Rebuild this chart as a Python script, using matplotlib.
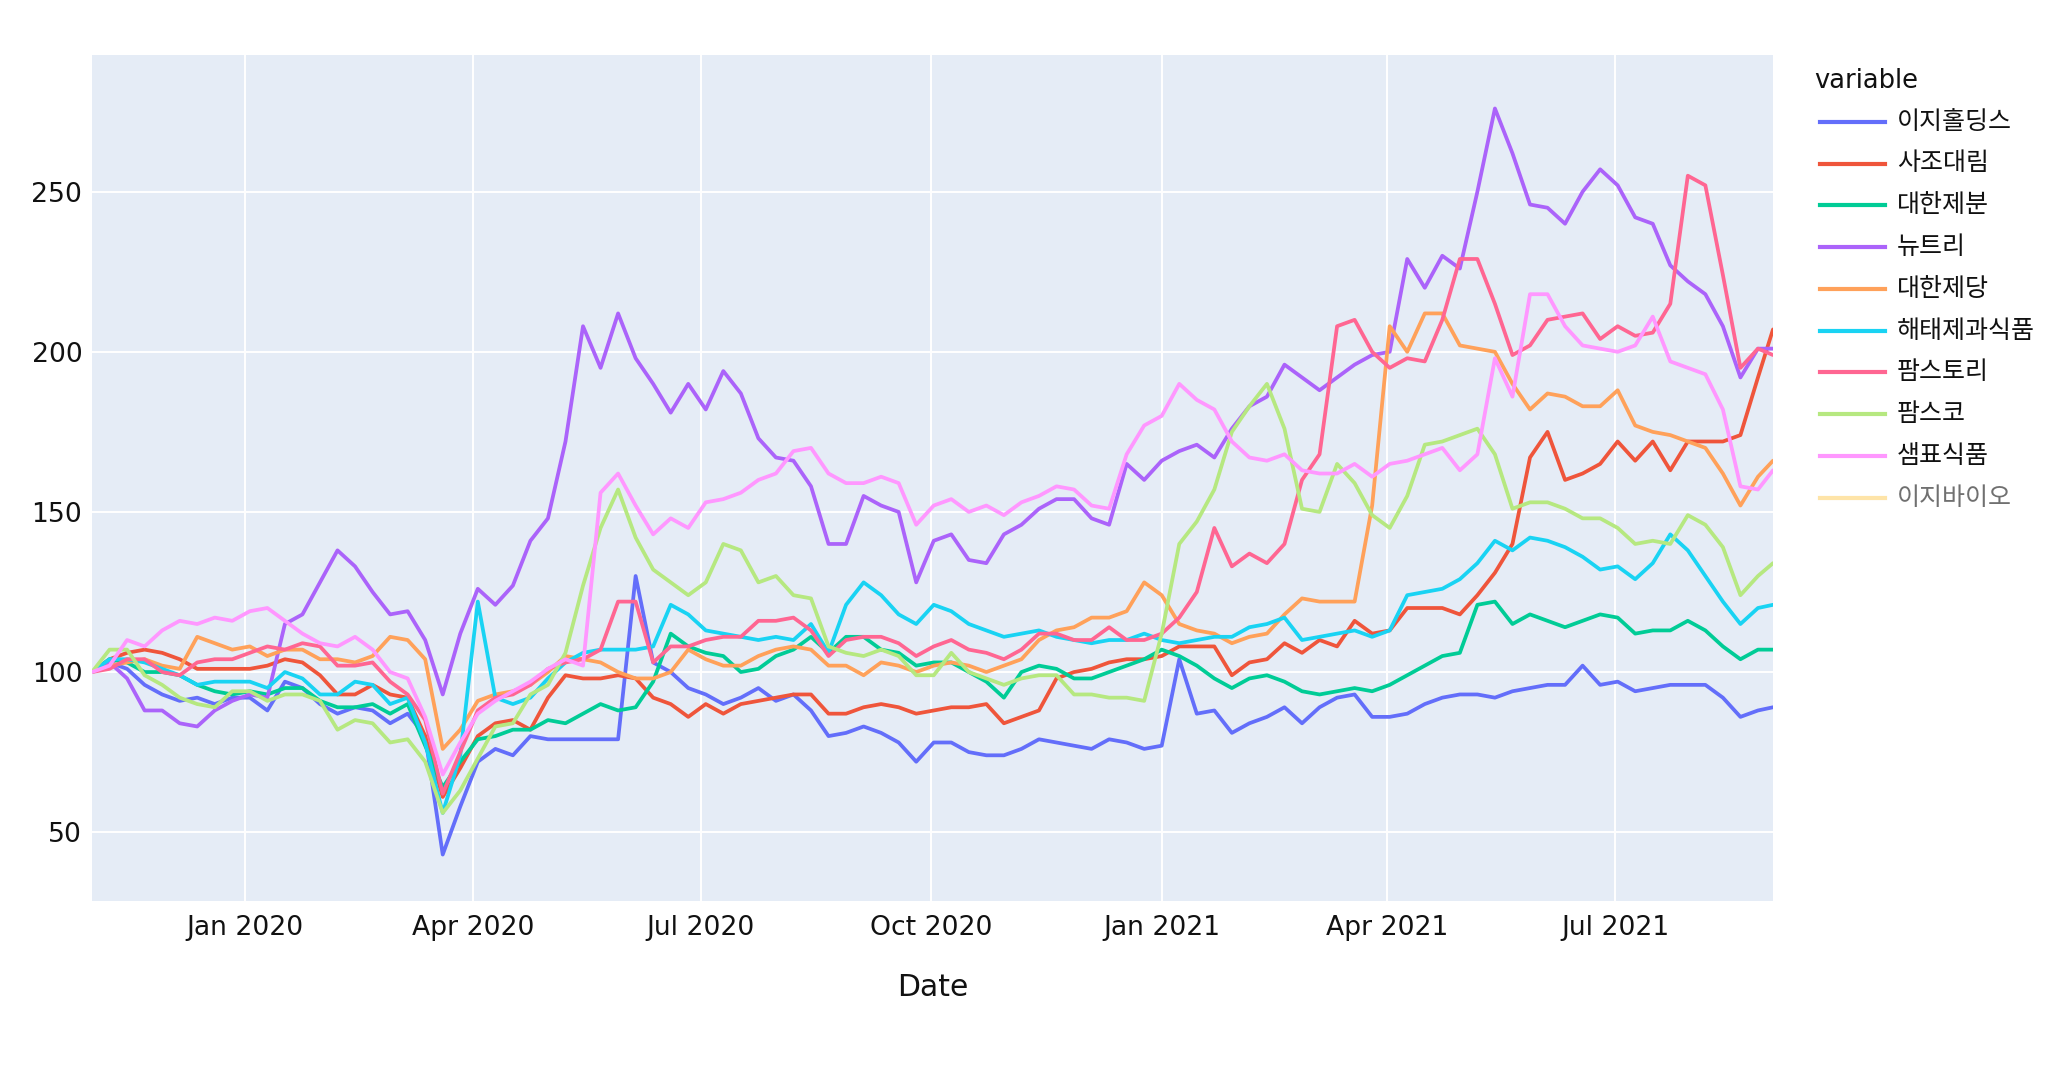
import matplotlib
matplotlib.use('Agg')
import matplotlib.pyplot as plt
import matplotlib.dates as mdates
from matplotlib.lines import Line2D
import pandas as pd

plt.rcParams['font.family'] = ['DejaVu Sans', 'Noto Sans CJK KR']

# ---------------- data ----------------
series_names = ['이지홀딩스', '사조대림', '대한제분', '뉴트리', '대한제당',
                '해태제과식품', '팜스토리', '팜스코', '샘표식품', '이지바이오']
colors = ['#636EFA', '#EF553B', '#00CC96', '#AB63FA', '#FFA15A',
          '#19D3F3', '#FF6692', '#B6E880', '#FF97FF', '#FECB52']
hidden = ['이지바이오']  # legend-only trace

dates = list(pd.date_range('2019-11-01', periods=96, freq='7D')) + [pd.Timestamp('2021-09-02')]

easy_holdings = [100, 103, 101, 96, 93, 91, 92, 90, 92, 92,
                 88, 97, 95, 90, 87, 89, 88, 84, 87, 80,
                 43, 58, 72, 76, 74, 80, 79, 79, 79, 79,
                 79, 130, 103, 100, 95, 93, 90, 92, 95, 91,
                 93, 88, 80, 81, 83, 81, 78, 72, 78, 78,
                 75, 74, 74, 76, 79, 78, 77, 76, 79, 78,
                 76, 77, 104, 87, 88, 81, 84, 86, 89, 84,
                 89, 92, 93, 86, 86, 87, 90, 92, 93, 93,
                 92, 94, 95, 96, 96, 102, 96, 97, 94, 95,
                 96, 96, 96, 92, 86, 88, 89]
sajo_daerim = [100, 104, 106, 107, 106, 104, 101, 101, 101, 101,
               102, 104, 103, 99, 93, 93, 96, 93, 92, 80,
               61, 70, 80, 84, 85, 82, 92, 99, 98, 98,
               99, 98, 92, 90, 86, 90, 87, 90, 91, 92,
               93, 93, 87, 87, 89, 90, 89, 87, 88, 89,
               89, 90, 84, 86, 88, 98, 100, 101, 103, 104,
               104, 105, 108, 108, 108, 99, 103, 104, 109, 106,
               110, 108, 116, 112, 113, 120, 120, 120, 118, 124,
               131, 140, 167, 175, 160, 162, 165, 172, 166, 172,
               163, 172, 172, 172, 174, 192, 207]
daehan_flour = [100, 104, 103, 100, 100, 99, 96, 94, 93, 94,
                93, 95, 95, 91, 89, 89, 90, 87, 90, 77,
                64, 72, 79, 80, 82, 82, 85, 84, 87, 90,
                88, 89, 97, 112, 108, 106, 105, 100, 101, 105,
                107, 111, 106, 111, 111, 107, 106, 102, 103, 103,
                100, 97, 92, 100, 102, 101, 98, 98, 100, 102,
                104, 107, 105, 102, 98, 95, 98, 99, 97, 94,
                93, 94, 95, 94, 96, 99, 102, 105, 106, 121,
                122, 115, 118, 116, 114, 116, 118, 117, 112, 113,
                113, 116, 113, 108, 104, 107, 107]
nutri = [100, 103, 98, 88, 88, 84, 83, 88, 91, 93,
         92, 115, 118, 128, 138, 133, 125, 118, 119, 110,
         93, 112, 126, 121, 127, 141, 148, 172, 208, 195,
         212, 198, 190, 181, 190, 182, 194, 187, 173, 167,
         166, 158, 140, 140, 155, 152, 150, 128, 141, 143,
         135, 134, 143, 146, 151, 154, 154, 148, 146, 165,
         160, 166, 169, 171, 167, 176, 183, 186, 196, 192,
         188, 192, 196, 199, 200, 229, 220, 230, 226, 250,
         276, 262, 246, 245, 240, 250, 257, 252, 242, 240,
         227, 222, 218, 208, 192, 201, 201]
daehan_sugar = [100, 102, 103, 104, 102, 101, 111, 109, 107, 108,
                105, 107, 107, 104, 104, 103, 105, 111, 110, 104,
                76, 82, 91, 93, 94, 96, 100, 105, 104, 103,
                100, 98, 98, 100, 107, 104, 102, 102, 105, 107,
                108, 107, 102, 102, 99, 103, 102, 100, 102, 103,
                102, 100, 102, 104, 110, 113, 114, 117, 117, 119,
                128, 124, 115, 113, 112, 109, 111, 112, 118, 123,
                122, 122, 122, 152, 208, 200, 212, 212, 202, 201,
                200, 190, 182, 187, 186, 183, 183, 188, 177, 175,
                174, 172, 170, 162, 152, 161, 166]
haitai = [100, 104, 104, 103, 101, 99, 96, 97, 97, 97,
          95, 100, 98, 93, 93, 97, 96, 90, 92, 78,
          56, 74, 122, 92, 90, 92, 98, 103, 106, 107,
          107, 107, 108, 121, 118, 113, 112, 111, 110, 111,
          110, 115, 106, 121, 128, 124, 118, 115, 121, 119,
          115, 113, 111, 112, 113, 111, 110, 109, 110, 110,
          112, 110, 109, 110, 111, 111, 114, 115, 117, 110,
          111, 112, 113, 111, 113, 124, 125, 126, 129, 134,
          141, 138, 142, 141, 139, 136, 132, 133, 129, 134,
          143, 138, 130, 122, 115, 120, 121]
farmstory = [100, 101, 104, 104, 100, 99, 103, 104, 104, 106,
             108, 107, 109, 108, 102, 102, 103, 97, 93, 85,
             62, 75, 88, 92, 93, 96, 101, 103, 104, 107,
             122, 122, 103, 108, 108, 110, 111, 111, 116, 116,
             117, 113, 105, 110, 111, 111, 109, 105, 108, 110,
             107, 106, 104, 107, 112, 112, 110, 110, 114, 110,
             110, 112, 117, 125, 145, 133, 137, 134, 140, 160,
             168, 208, 210, 200, 195, 198, 197, 210, 229, 229,
             215, 199, 202, 210, 211, 212, 204, 208, 205, 206,
             215, 255, 252, 224, 195, 201, 199]
farmsco = [100, 107, 107, 99, 96, 92, 90, 89, 94, 94,
           91, 93, 93, 91, 82, 85, 84, 78, 79, 72,
           56, 63, 73, 83, 84, 93, 96, 106, 127, 145,
           157, 142, 132, 128, 124, 128, 140, 138, 128, 130,
           124, 123, 108, 106, 105, 107, 105, 99, 99, 106,
           100, 98, 96, 98, 99, 99, 93, 93, 92, 92,
           91, 112, 140, 147, 157, 175, 183, 190, 176, 151,
           150, 165, 159, 149, 145, 155, 171, 172, 174, 176,
           168, 151, 153, 153, 151, 148, 148, 145, 140, 141,
           140, 149, 146, 139, 124, 130, 134]
sempio = [100, 102, 110, 108, 113, 116, 115, 117, 116, 119,
          120, 116, 112, 109, 108, 111, 107, 100, 98, 86,
          68, 78, 87, 91, 94, 97, 101, 104, 102, 156,
          162, 152, 143, 148, 145, 153, 154, 156, 160, 162,
          169, 170, 162, 159, 159, 161, 159, 146, 152, 154,
          150, 152, 149, 153, 155, 158, 157, 152, 151, 168,
          177, 180, 190, 185, 182, 172, 167, 166, 168, 163,
          162, 162, 165, 161, 165, 166, 168, 170, 163, 168,
          198, 186, 218, 218, 208, 202, 201, 200, 202, 211,
          197, 195, 193, 182, 158, 157, 163]
easy_bio = []  # hidden (legend only)

series_values = [easy_holdings, sajo_daerim, daehan_flour, nutri, daehan_sugar,
                 haitai, farmstory, farmsco, sempio, easy_bio]

y_ticks = [50, 100, 150, 200, 250]

# ---------------- figure ----------------
W, H = 2066, 1066
fig = plt.figure(figsize=(W / 100, H / 100), dpi=100)
L, R, T, B = 92, 1773, 55, 901
ax = fig.add_axes([L / W, 1 - B / H, (R - L) / W, (B - T) / H])
ax.set_facecolor('#E5ECF6')

for name, vals, c in zip(series_names, series_values, colors):
    if name in hidden or len(vals) == 0:
        continue
    ax.plot(dates[:len(vals)], vals, color=c, lw=2.7, solid_joinstyle='round',
            solid_capstyle='round')

ax.set_xlim(dates[0], dates[-1])
ax.set_ylim(28.5, 292.7)
ax.set_yticks(y_ticks)
ax.xaxis.set_major_locator(mdates.MonthLocator(bymonth=[1, 4, 7, 10]))
ax.xaxis.set_major_formatter(mdates.DateFormatter('%b %Y'))
ax.grid(True, color='white', lw=1.4)
ax.set_axisbelow(True)
for s in ax.spines.values():
    s.set_visible(False)
ax.tick_params(axis='both', length=0, labelsize=19.2, colors='#111111')
ax.tick_params(axis='x', pad=10)
ax.tick_params(axis='y', pad=7)

fig.text(933 / W, 1 - 988 / H, 'Date', ha='center', va='center',
         fontsize=21.5, color='#111111')

# ---------------- legend ----------------
fig.text(1814 / W, 1 - 81 / H, 'variable', ha='left', va='center',
         fontsize=18.5, color='#111111')
y0, dy = 121.7, 41.8
for i, (name, c) in enumerate(zip(series_names, colors)):
    yy = 1 - (y0 + i * dy) / H
    alpha = 0.5 if name in hidden else 1.0
    fig.add_artist(Line2D([1820 / W, 1885 / W], [yy, yy], color=c, lw=3.0,
                          alpha=alpha, transform=fig.transFigure))
    fig.text(1897 / W, yy, name, ha='left', va='center', fontsize=18,
             color='#111111', alpha=(0.6 if name in hidden else 1.0))

fig.savefig('out.png', dpi=100, facecolor='white')
